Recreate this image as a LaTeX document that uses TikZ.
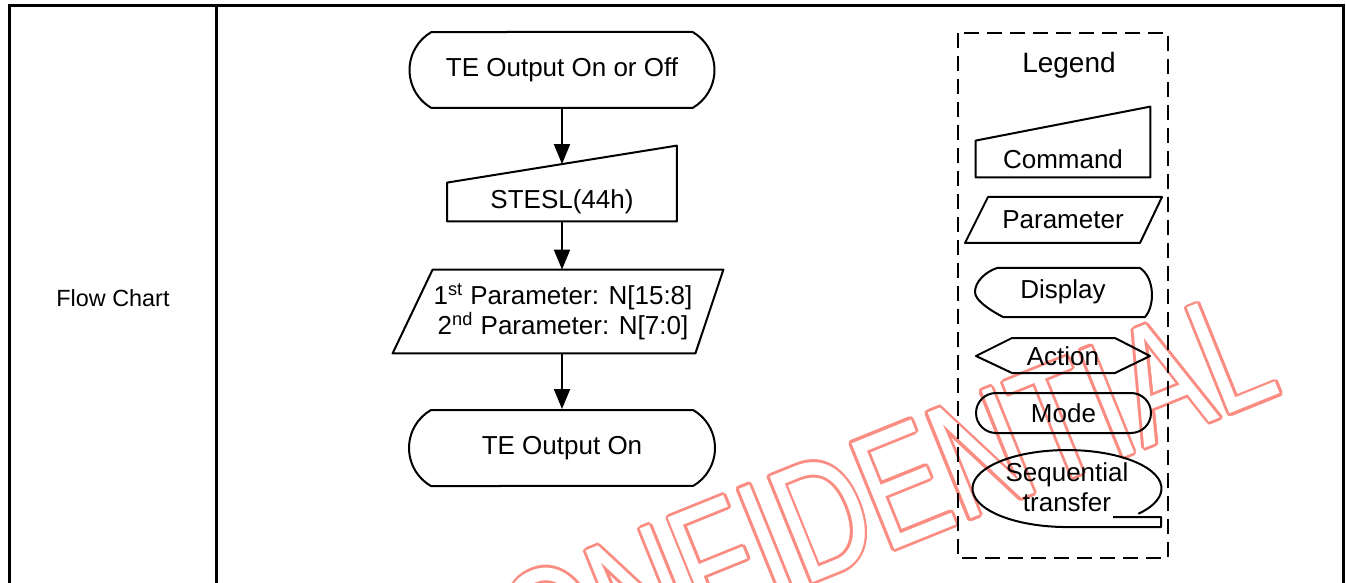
\documentclass[tikz,border=0pt]{standalone}
\usepackage{fontspec}
\setmainfont{Liberation Sans}
\usetikzlibrary{arrows.meta,calc,shapes.misc}
\definecolor{wmred}{RGB}{250,140,130}
\tikzset{
  box/.style={inner sep=0pt, font=\fontsize{13}{15}\selectfont, align=center},
  outline/.style={line width=1pt, line join=round},
  flow/.style={line width=1pt, -{Triangle[length=10pt,width=8pt]}},
  wm/.style={font=\fontsize{83}{83}\selectfont, rotate=22, xscale=0.74, inner sep=0pt}
}

\begin{document}
\begin{tikzpicture}[x=0.5pt,y=-0.5pt]
\useasboundingbox (0,0) rectangle (1346,583);
% watermark behind everything
\foreach \a in {0,30,...,330}
  \node[shift={(\a:1.4pt)}, wm, text=wmred] at (845,508) {CONFIDENTIAL};
\node[wm, text=white] (wm) at (845,508) {CONFIDENTIAL};

% table frame
\draw[line width=1.5pt] (9,590) -- (9,5.5) -- (1343,5.5) -- (1343,590);
\draw[line width=1.5pt] (216,5.5) -- (216,590);
\node[font=\fontsize{11.7}{14}\selectfont] (label) at (113,298) {Flow Chart};

% flow chart
\node[box, draw, outline, rounded rectangle, rounded rectangle arc length=120,
  minimum width=152.5pt, minimum height=38pt] (start) at (562,70) {TE Output On or Off};
\node[box, minimum width=114.5pt, minimum height=19pt] (cmd) at (562,202) {STESL(44h)};
\draw[outline] (cmd.south west) -- (cmd.south east) -- ($(cmd.north east)+(0,-37)$)
  -- (cmd.north west) -- cycle;
\coordinate (cmdtop) at ($(cmd.north)+(0,-18.5)$);
\node[box, minimum width=160pt, minimum height=41.5pt] (param) at (563,311.5)
  {1\textsuperscript{st} Parameter: N[15:8]\\2\textsuperscript{nd} Parameter: N[7:0]};
\draw[outline] ($(param.north west)+(30,0)$) -- (param.north east)
  -- ($(param.south east)+(-28,0)$) -- ($(param.south west)+(-10,0)$) -- cycle;
\node[box, draw, outline, rounded rectangle, rounded rectangle arc length=120,
  minimum width=153pt, minimum height=38pt] (stop) at (562,448) {TE Output On};

\draw[flow] (start.south) -- (cmdtop);
\draw[flow] (cmd.south) -- (cmd.south |- param.north);
\draw[flow] (stop.north |- param.south) -- (stop.north);

% legend
\draw[line width=1.25pt, dash pattern=on 7.5pt off 4pt] (958,33) rectangle (1168,558);
\node[font=\fontsize{14}{16}\selectfont] (legend) at (1069,65) {Legend};

\node[box, minimum width=87pt, minimum height=18pt] (lcmd) at (1063,159) {Command};
\draw[outline] (lcmd.south west) -- (lcmd.south east) -- ($(lcmd.north east)+(0,-34)$)
  -- (lcmd.north west) -- cycle;

\node[box] (lpar) at (1063,220) {Parameter};
\draw[outline] ($(lpar)+(-75,-23)$) -- ($(lpar)+(99,-23)$) -- ($(lpar)+(77,23)$)
  -- ($(lpar)+(-98,23)$) -- cycle;

\node[box] (ldisp) at (1063,292) {Display};
\draw[outline] ($(ldisp)+(-66,-24)$) -- ($(ldisp)+(77,-24)$)
  .. controls ($(ldisp)+(92,-14)$) and ($(ldisp)+(92,14)$) .. ($(ldisp)+(82,25)$)
  -- ($(ldisp)+(-60,25)$)
  .. controls ($(ldisp)+(-75,17)$) and ($(ldisp)+(-88,8)$) .. ($(ldisp)+(-88,0)$)
  .. controls ($(ldisp)+(-88,-10)$) and ($(ldisp)+(-78,-20)$) .. ($(ldisp)+(-66,-24)$)
  -- cycle;

\node[box] (lact) at (1063,356) {Action};
\draw[outline] ($(lact)+(-87,0)$) -- ($(lact)+(-51,-18)$) -- ($(lact)+(52,-18)$)
  -- ($(lact)+(87,0)$) -- ($(lact)+(52,17)$) -- ($(lact)+(-51,17)$) -- cycle;

\node[box, draw, outline, rounded rectangle, minimum width=87.5pt, minimum height=20pt]
  (lmode) at (1063.5,413) {Mode};

\node[box] (lseq) at (1067,487) {Sequential\\transfer};
\draw[outline] ($(lseq)+(71.3,26.8)$)
  arc[start angle=41, end angle=-270, x radius=94.5, y radius=38.5]
  -- ($(lseq)+(94,40)$) -- ($(lseq)+(94,30)$) -- ($(lseq)+(46,30)$);
\end{tikzpicture}
\end{document}
